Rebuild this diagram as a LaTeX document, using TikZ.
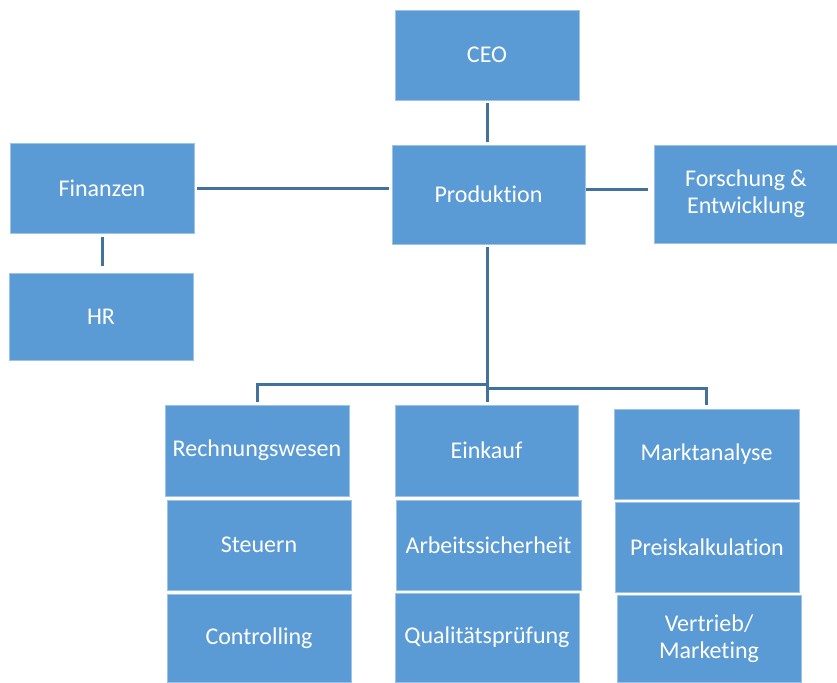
\documentclass[tikz,border=0pt]{standalone}
\usepackage{fontspec}
\setmainfont{Carlito}[Ligatures=NoCommon]
\definecolor{boxblue}{RGB}{91,155,213}
\definecolor{linkblue}{RGB}{65,113,156}
\begin{document}
\begin{tikzpicture}[x=1pt,y=-1pt,
  unit/.style={rectangle, fill=boxblue, draw=boxblue!60!white, line width=0.8pt,
    text=white, inner sep=0pt, outer sep=0pt, align=center,
    font=\fontsize{24}{27}\selectfont},
  link/.style={draw=linkblue, line width=3pt}]
\useasboundingbox (0,0) rectangle (837,682);
\node[unit, minimum width=184pt, minimum height=90pt] (ceo) at (487,55) {CEO};
\node[unit, minimum width=193pt, minimum height=99pt] (prod) at (488.5,194.5) {Produktion};
\node[unit, minimum width=184pt, minimum height=90pt] (fin) at (102,188) {Finanzen};
\node[unit, minimum width=184pt, minimum height=87pt] (hr) at (101,316.5) {HR};
\node[unit, minimum width=184pt, minimum height=98pt] (fe) at (746,194) {Forschung \&\\Entwicklung};
\node[unit, minimum width=184pt, minimum height=91pt] (rw) at (257,450.5) {Rechnungswesen};
\node[unit, minimum width=184pt, minimum height=90pt] (st) at (259,545) {Steuern};
\node[unit, minimum width=184pt, minimum height=88pt] (co) at (259,638) {Controlling};
\node[unit, minimum width=183pt, minimum height=91pt] (ek) at (486.5,450.5) {Einkauf};
\node[unit, minimum width=185pt, minimum height=90pt] (as) at (488.5,545) {Arbeitssicherheit};
\node[unit, minimum width=184pt, minimum height=89pt] (qp) at (487,637.5) {Qualitätsprüfung};
\node[unit, minimum width=185pt, minimum height=90pt] (ma) at (706.5,454) {Marktanalyse};
\node[unit, minimum width=184pt, minimum height=90pt] (pk) at (707,547) {Preiskalkulation};
\node[unit, minimum width=184pt, minimum height=87pt] (vm) at (709,638.5) {Vertrieb/\\Marketing};
% connectors
\draw[link] ([yshift=-3pt]ceo.south) -- ([yshift=3pt]ceo.south |- prod.north);
\draw[link] ([xshift=3pt]fin.east) -- ([xshift=-3pt]fin.east -| prod.west);
\draw[link] ([yshift=-4pt]fin.south) -- ([yshift=7pt]fin.south |- hr.north);
\coordinate (pr) at ([xshift=1pt,yshift=5.5pt]prod.east);
\draw[link] (pr) -- ([xshift=-6pt]pr -| fe.west);
\coordinate (top) at ([yshift=-3pt]prod.south -| ceo.south);
\coordinate (jl) at (487,384);
\coordinate (jr) at (487,388);
\draw[link] (top) -- ([yshift=3pt]ek.north -| top);
\draw[link] (jl) -| ([yshift=3pt]rw.north);
\draw[link] (jr) -| ([yshift=4pt]ma.north);
\end{tikzpicture}
\end{document}
